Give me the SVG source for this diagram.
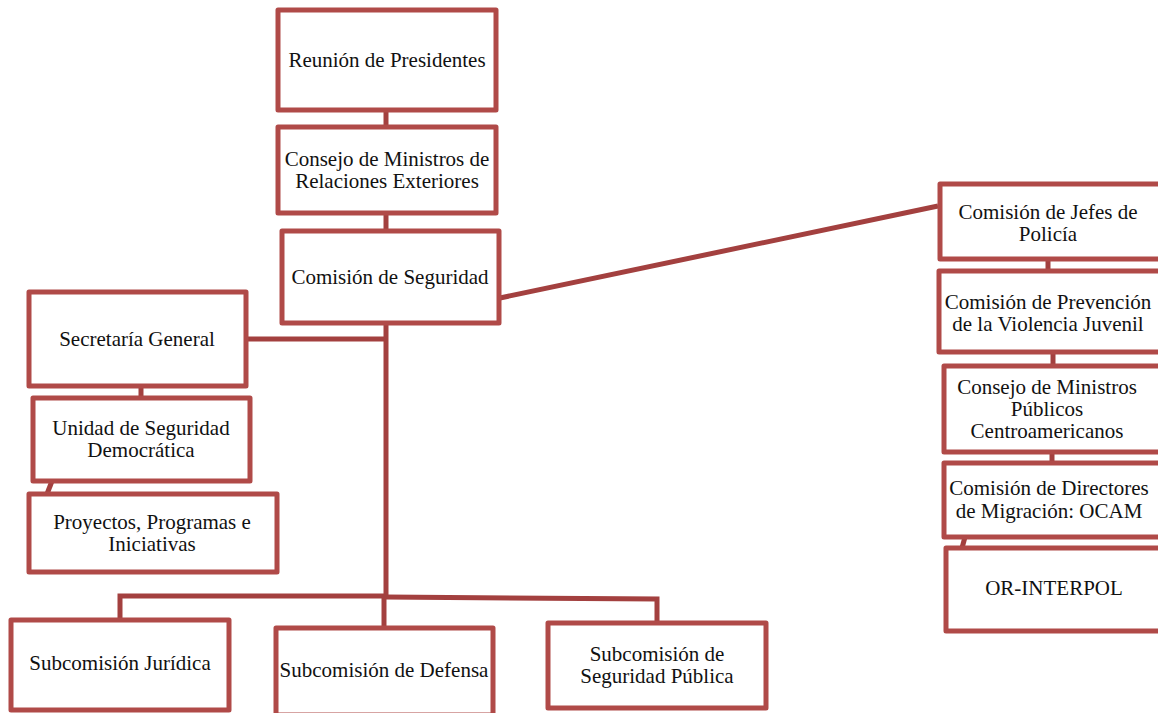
<svg xmlns="http://www.w3.org/2000/svg" width="1158" height="713" viewBox="0 0 1158 713">
<style>
.box{fill:#fff;stroke:#B04A48;stroke-width:5;stroke-linejoin:round}
.c{stroke:#A3403F;stroke-width:5;fill:none}
text{font-family:"Liberation Serif","Times New Roman",serif;font-size:21px;fill:#111;text-anchor:middle}
</style>
<rect width="1158" height="713" fill="#fff"/>
<g id="connectors">
<line class="c" x1="386" y1="110" x2="386" y2="127"/>
<line class="c" x1="386" y1="212" x2="386" y2="231"/>
<line class="c" x1="386" y1="322" x2="386" y2="597"/>
<line class="c" x1="246" y1="339" x2="386" y2="339"/>
<line class="c" x1="141" y1="386" x2="141" y2="398"/>
<line class="c" x1="52" y1="481" x2="47" y2="494"/>
<polyline class="c" points="120,619 120,596 386,596"/>
<polyline class="c" points="386,597 657,599 657,622"/>
<line class="c" x1="384" y1="597" x2="384" y2="627"/>
<line class="c" x1="500" y1="298" x2="938" y2="206"/>
<line class="c" x1="1048" y1="259" x2="1048" y2="271"/>
<line class="c" x1="1053" y1="352" x2="1053" y2="366"/>
<line class="c" x1="1052" y1="452" x2="1052" y2="463"/>
<line class="c" x1="965" y1="537" x2="962" y2="548"/>
</g>
<g id="n1"><rect class="box" x="278" y="10" width="218" height="100"/><text x="387" y="67">Reunión de Presidentes</text></g>
<g id="n2"><rect class="box" x="278" y="127" width="218" height="86"/><text x="387" y="166">Consejo de Ministros de</text><text x="387" y="188">Relaciones Exteriores</text></g>
<g id="n3"><rect class="box" x="282" y="231" width="217" height="92"/><text x="390" y="284">Comisión de Seguridad</text></g>
<g id="n4"><rect class="box" x="29" y="292" width="217" height="94"/><text x="137" y="346">Secretaría General</text></g>
<g id="n5"><rect class="box" x="33" y="398" width="217" height="83"/><text x="141" y="435">Unidad de Seguridad</text><text x="141" y="457">Democrática</text></g>
<g id="n6"><rect class="box" x="29" y="494" width="248" height="78"/><text x="152" y="529">Proyectos, Programas e</text><text x="152" y="551">Iniciativas</text></g>
<g id="n7"><rect class="box" x="11" y="620" width="218" height="90"/><text x="120" y="670">Subcomisión Jurídica</text></g>
<g id="n8"><rect class="box" x="276" y="628" width="217" height="87"/><text x="384" y="677">Subcomisión de Defensa</text></g>
<g id="n9"><rect class="box" x="548" y="623" width="218" height="85"/><text x="657" y="661">Subcomisión de</text><text x="657" y="683">Seguridad Pública</text></g>
<g id="n10"><rect class="box" x="940" y="184" width="222" height="75"/><text x="1048" y="219">Comisión de Jefes de</text><text x="1048" y="241">Policía</text></g>
<g id="n11"><rect class="box" x="939" y="271" width="223" height="81"/><text x="1048" y="309">Comisión de Prevención</text><text x="1048" y="331">de la Violencia Juvenil</text></g>
<g id="n12"><rect class="box" x="944" y="366" width="218" height="86"/><text x="1047" y="394">Consejo de Ministros</text><text x="1047" y="416">Públicos</text><text x="1047" y="438">Centroamericanos</text></g>
<g id="n13"><rect class="box" x="944" y="463" width="218" height="74"/><text x="1049" y="495">Comisión de Directores</text><text x="1049" y="518">de Migración: OCAM</text></g>
<g id="n14"><rect class="box" x="946" y="548" width="216" height="83"/><text x="1054" y="595">OR-INTERPOL</text></g>
</svg>
